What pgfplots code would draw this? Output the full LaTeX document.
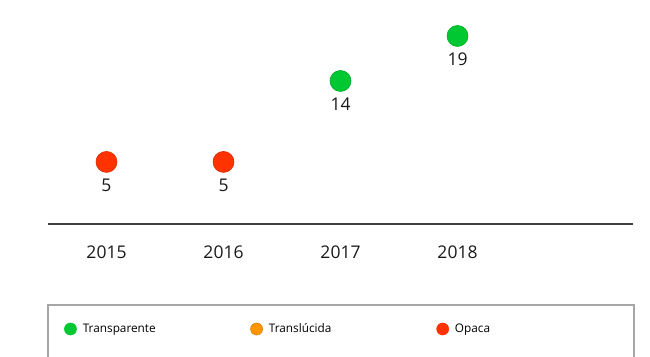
\documentclass[border=0pt]{standalone}
\usepackage{pgfplots}
\pgfplotsset{compat=1.18}
\usepackage{fontspec}
\setmainfont{Open Sans}
\definecolor{cgreen}{RGB}{0,200,50}
\definecolor{corange}{RGB}{255,150,0}
\definecolor{cred}{RGB}{255,51,0}
\begin{document}
\begin{tikzpicture}[x=1bp,y=1bp]
\useasboundingbox (0,0) rectangle (650,356);
\begin{scope}
\clip (0,0) rectangle (650,356);
\draw[color=black!35, line width=1.2bp] (48,-5) -- (48,51) -- (634,51) -- (634,-5);
\end{scope}
\begin{axis}[
  at={(48bp,132bp)}, anchor=south west,
  scale only axis, width=585bp, height=224bp,
  xmin=2014.5, xmax=2019.5, ymin=-1.9, ymax=23,
  axis y line=none, axis x line=bottom,
  axis line style={-, line width=1.5bp, color=black!75},
  xtick={2015,2016,2017,2018},
  major tick length=0pt,
  /pgf/number format/assume math mode=true,
  xticklabel style={/pgf/number format/1000 sep={}, yshift=-18bp, text=black!90},
  font=\fontsize{17.5bp}{20bp}\selectfont,
  ticklabel style={font=\fontsize{17.5bp}{20bp}\selectfont},
  nodes near coords,
  every node near coord/.append style={anchor=north, yshift=-13bp, text=black!90, font=\fontsize{17.5bp}{20bp}\selectfont},
  clip=false,
  legend image code/.code={\filldraw[#1, line width=0.6bp] (6bp,0bp) circle (6bp);},
  legend style={
    at={(axis cs:2014.5,-1.9)}, anchor=west, xshift=13bp, yshift=-105bp,
    draw=none, fill=none,
    legend columns=3,
    font=\fontsize{11.8bp}{14bp}\selectfont,
    cells={anchor=west},
    /tikz/every odd column/.append style={column sep=6bp},
    /tikz/every even column/.append style={column sep=0pt},
    nodes={inner xsep=0pt, inner ysep=1bp, text width=167.5bp, align=left},
  },
]
\addplot[only marks, mark=*, mark size=10.5bp, color=cgreen, mark options={fill=cgreen, draw=cgreen!85!black, line width=0.6bp}]
  coordinates {(2017,14) (2018,19)};
\addlegendentry{Transparente}
\addlegendimage{corange, fill=corange, draw=corange!85!black}
\addlegendentry{Translúcida}
\addplot[only marks, mark=*, mark size=10.5bp, color=cred, mark options={fill=cred, draw=cred!85!black, line width=0.6bp}]
  coordinates {(2015,5) (2016,5)};
\addlegendentry{Opaca}
\end{axis}
\end{tikzpicture}
\end{document}
